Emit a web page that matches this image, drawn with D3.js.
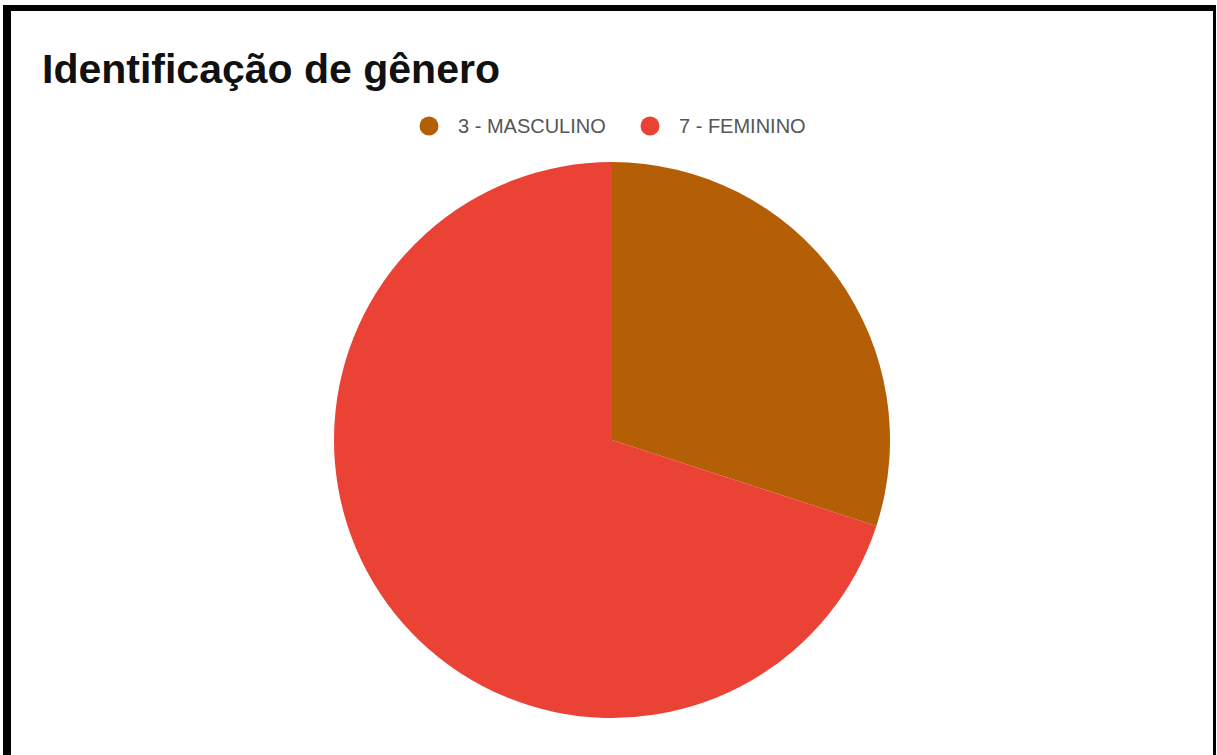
<!DOCTYPE html>
<html>
<head>
<meta charset="utf-8">
<script src="https://cdn.jsdelivr.net/npm/d3@7/dist/d3.min.js"></script>
<style>
html,body{margin:0;padding:0;background:#fff;}
svg{display:block;}
</style>
</head>
<body>
<svg id="chart" width="1217" height="755"></svg>
<script>
const title = "Identificação de gênero";
const categories = ["3 - MASCULINO", "7 - FEMININO"];
const values = [3, 7];
const colors = ["#b45f06", "#ea4335"];

const svg = d3.select("#chart");
const W = 1217, H = 755;

// frame
svg.append("rect").attr("x", 0).attr("y", 0).attr("width", W).attr("height", H).attr("fill", "#fff");
svg.append("rect").attr("x", 3).attr("y", 5).attr("width", 8).attr("height", H - 5).attr("fill", "#000");
svg.append("rect").attr("x", 3).attr("y", 5).attr("width", 1213).attr("height", 6).attr("fill", "#000");
svg.append("rect").attr("x", 1213).attr("y", 5).attr("width", 3).attr("height", H - 5).attr("fill", "#000");

// title
svg.append("text")
  .attr("x", 42).attr("y", 83)
  .attr("font-family", "'Liberation Sans', Arial, sans-serif")
  .attr("font-weight", "bold")
  .attr("font-size", 41)
  .attr("fill", "#111")
  .text(title);

// legend
const legendX = [429, 650];
const legend = svg.append("g");
categories.forEach((c, i) => {
  const g = legend.append("g").attr("transform", `translate(${legendX[i]},126)`);
  g.append("circle").attr("r", 9.5).attr("fill", colors[i]);
  g.append("text").attr("x", 29).attr("y", 7)
    .attr("font-family", "'Liberation Sans', Arial, sans-serif")
    .attr("font-size", 20)
    .attr("fill", "#555")
    .text(c);
});

// pie
const cx = 612, cy = 440, r = 278;
const pie = d3.pie().sort(null).value(d => d)(values);
const arc = d3.arc().innerRadius(0).outerRadius(r);
svg.append("g").attr("transform", `translate(${cx},${cy})`)
  .selectAll("path").data(pie).join("path")
  .attr("d", arc)
  .attr("fill", (d, i) => colors[i]);
</script>
</body>
</html>
